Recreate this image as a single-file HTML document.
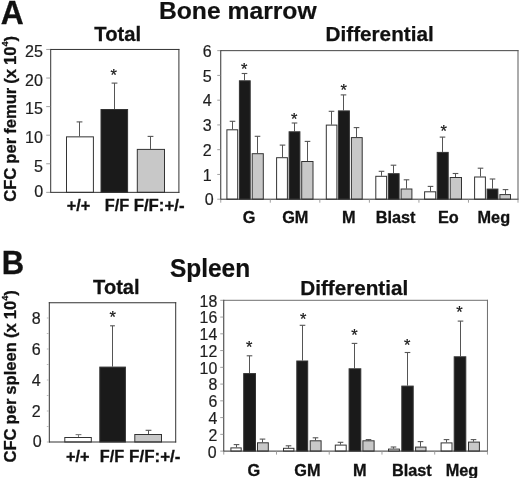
<!DOCTYPE html>
<html><head><meta charset="utf-8"><title>CFC figure</title>
<style>
html,body{margin:0;padding:0;background:#fff;}
body{width:520px;height:478px;overflow:hidden;}
svg{display:block;font-family:'Liberation Sans', sans-serif;filter:grayscale(1);}
</style></head><body>
<svg width="520" height="478" viewBox="0 0 520 478">
<rect x="0" y="0" width="520" height="478" fill="#ffffff"/>
<text transform="translate(0.80,23.80) scale(1.0,1.03)" font-size="31.8" font-weight="bold" text-anchor="start" fill="#111" stroke="#111" stroke-width="0.3">A</text>
<text transform="translate(1.70,274.20) scale(1.0,1.1)" font-size="31.0" font-weight="bold" text-anchor="start" fill="#111" stroke="#111" stroke-width="0.3">B</text>
<text transform="translate(158.90,19.30) scale(1.0,0.98)" font-size="24.7" font-weight="bold" text-anchor="start" fill="#111" stroke="#111" stroke-width="0.2">Bone marrow</text>
<text transform="translate(169.90,277.10) scale(1.0,1.03)" font-size="24.5" font-weight="bold" text-anchor="start" fill="#111" stroke="#111" stroke-width="0.2">Spleen</text>
<text transform="translate(94.30,41.00) scale(1.0,1.02)" font-size="20.2" font-weight="bold" text-anchor="start" fill="#111" stroke="#111" stroke-width="0.25">Total</text>
<text transform="translate(93.10,293.50) scale(1.0,1.02)" font-size="20.1" font-weight="bold" text-anchor="start" fill="#111" stroke="#111" stroke-width="0.25">Total</text>
<text transform="translate(325.60,41.30) scale(1.0,1.0)" font-size="20.7" font-weight="bold" text-anchor="start" fill="#111" stroke="#111" stroke-width="0.25">Differential</text>
<text transform="translate(300.20,295.30) scale(1.0,1.0)" font-size="20.7" font-weight="bold" text-anchor="start" fill="#111" stroke="#111" stroke-width="0.25">Differential</text>
<text transform="translate(15.90,201.80) rotate(-90) scale(1,1.03)" font-size="16.6" word-spacing="-0.6" font-weight="bold" fill="#111" stroke="#111" stroke-width="0.3">CFC per femur (x 10<tspan font-size="9" dy="-7.6">4</tspan><tspan dy="7.6">)</tspan></text>
<text transform="translate(15.90,462.60) rotate(-90) scale(1,1.03)" font-size="16.6" word-spacing="-0.6" font-weight="bold" fill="#111" stroke="#111" stroke-width="0.3">CFC per spleen (x 10<tspan font-size="9" dy="-7.6">4</tspan><tspan dy="7.6">)</tspan></text>
<rect x="79.00" y="121.90" width="1.00" height="14.45" fill="#555555"/>
<rect x="76.60" y="121.35" width="5.80" height="1.10" fill="#555555"/>
<rect x="66.50" y="136.85" width="26.90" height="55.50" fill="#ffffff" stroke="#333333" stroke-width="1"/>
<rect x="114.00" y="83.10" width="1.00" height="25.90" fill="#555555"/>
<rect x="111.60" y="82.55" width="5.80" height="1.10" fill="#555555"/>
<rect x="101.00" y="109.50" width="26.60" height="82.85" fill="#1a1a1a" stroke="#333333" stroke-width="1"/>
<rect x="150.00" y="136.40" width="1.00" height="12.50" fill="#555555"/>
<rect x="147.60" y="135.85" width="5.80" height="1.10" fill="#555555"/>
<rect x="137.30" y="149.40" width="27.20" height="42.95" fill="#c8c8c8" stroke="#333333" stroke-width="1"/>
<text x="113.80" y="80.90" font-size="16.5" text-anchor="middle" fill="#1a1a1a" stroke="#1a1a1a" stroke-width="0.25">*</text>
<rect x="50.20" y="48.95" width="129.20" height="1.00" fill="#333333"/>
<rect x="50.20" y="191.85" width="129.20" height="1.00" fill="#333333"/>
<rect x="50.20" y="48.95" width="1.00" height="143.90" fill="#333333"/>
<rect x="178.40" y="48.95" width="1.00" height="143.90" fill="#333333"/>
<rect x="46.20" y="191.85" width="4.00" height="1.00" fill="#a0a0a0"/>
<text transform="translate(43.10,196.95) scale(1.0,0.98)" font-size="16.1" text-anchor="end" fill="#1e1e1e" stroke="#1e1e1e" stroke-width="0.2">0</text>
<rect x="46.20" y="163.27" width="4.00" height="1.00" fill="#a0a0a0"/>
<text transform="translate(42.90,171.57) scale(1.0,0.98)" font-size="16.1" text-anchor="end" fill="#1e1e1e" stroke="#1e1e1e" stroke-width="0.2">5</text>
<rect x="46.20" y="134.69" width="4.00" height="1.00" fill="#a0a0a0"/>
<text transform="translate(42.90,142.99) scale(1.0,0.98)" font-size="16.1" text-anchor="end" fill="#1e1e1e" stroke="#1e1e1e" stroke-width="0.2">10</text>
<rect x="46.20" y="106.11" width="4.00" height="1.00" fill="#a0a0a0"/>
<text transform="translate(42.90,114.41) scale(1.0,0.98)" font-size="16.1" text-anchor="end" fill="#1e1e1e" stroke="#1e1e1e" stroke-width="0.2">15</text>
<rect x="46.20" y="77.53" width="4.00" height="1.00" fill="#a0a0a0"/>
<text transform="translate(42.90,85.83) scale(1.0,0.98)" font-size="16.1" text-anchor="end" fill="#1e1e1e" stroke="#1e1e1e" stroke-width="0.2">20</text>
<rect x="46.20" y="48.95" width="4.00" height="1.00" fill="#a0a0a0"/>
<text transform="translate(42.90,57.25) scale(1.0,0.98)" font-size="16.1" text-anchor="end" fill="#1e1e1e" stroke="#1e1e1e" stroke-width="0.2">25</text>
<text transform="translate(78.50,211.30) scale(1.0,0.98)" font-size="16.3" font-weight="bold" text-anchor="middle" fill="#111" stroke="#111" stroke-width="0.3">+/+</text>
<text transform="translate(116.90,211.30) scale(1.0,0.98)" font-size="16.3" font-weight="bold" text-anchor="middle" fill="#111" stroke="#111" stroke-width="0.3">F/F</text>
<text transform="translate(159.10,211.30) scale(1.03,0.98)" font-size="16.3" font-weight="bold" text-anchor="middle" fill="#111" stroke="#111" stroke-width="0.3">F/F:+/-</text>
<rect x="232.00" y="121.30" width="1.00" height="8.00" fill="#555555"/>
<rect x="229.70" y="120.75" width="5.60" height="1.10" fill="#555555"/>
<rect x="226.90" y="129.80" width="10.80" height="69.40" fill="#ffffff" stroke="#333333" stroke-width="1"/>
<rect x="244.00" y="73.50" width="1.00" height="6.80" fill="#555555"/>
<rect x="241.70" y="72.95" width="5.60" height="1.10" fill="#555555"/>
<rect x="239.40" y="80.80" width="10.80" height="118.40" fill="#1a1a1a" stroke="#333333" stroke-width="1"/>
<rect x="257.00" y="136.30" width="1.00" height="16.90" fill="#555555"/>
<rect x="254.70" y="135.75" width="5.60" height="1.10" fill="#555555"/>
<rect x="252.20" y="153.70" width="11.10" height="45.50" fill="#c8c8c8" stroke="#333333" stroke-width="1"/>
<rect x="282.00" y="145.10" width="1.00" height="12.10" fill="#555555"/>
<rect x="279.70" y="144.55" width="5.60" height="1.10" fill="#555555"/>
<rect x="276.60" y="157.70" width="10.80" height="41.50" fill="#ffffff" stroke="#333333" stroke-width="1"/>
<rect x="294.00" y="123.00" width="1.00" height="8.30" fill="#555555"/>
<rect x="291.70" y="122.45" width="5.60" height="1.10" fill="#555555"/>
<rect x="289.10" y="131.80" width="10.80" height="67.40" fill="#1a1a1a" stroke="#333333" stroke-width="1"/>
<rect x="307.00" y="141.40" width="1.00" height="19.60" fill="#555555"/>
<rect x="304.70" y="140.85" width="5.60" height="1.10" fill="#555555"/>
<rect x="301.70" y="161.50" width="11.30" height="37.70" fill="#c8c8c8" stroke="#333333" stroke-width="1"/>
<rect x="331.00" y="111.30" width="1.00" height="13.30" fill="#555555"/>
<rect x="328.70" y="110.75" width="5.60" height="1.10" fill="#555555"/>
<rect x="326.30" y="125.10" width="10.60" height="74.10" fill="#ffffff" stroke="#333333" stroke-width="1"/>
<rect x="343.00" y="94.90" width="1.00" height="15.50" fill="#555555"/>
<rect x="340.70" y="94.35" width="5.60" height="1.10" fill="#555555"/>
<rect x="338.40" y="110.90" width="11.00" height="88.30" fill="#1a1a1a" stroke="#333333" stroke-width="1"/>
<rect x="356.00" y="127.60" width="1.00" height="9.50" fill="#555555"/>
<rect x="353.70" y="127.05" width="5.60" height="1.10" fill="#555555"/>
<rect x="351.40" y="137.60" width="10.80" height="61.60" fill="#c8c8c8" stroke="#333333" stroke-width="1"/>
<rect x="381.00" y="171.30" width="1.00" height="4.50" fill="#555555"/>
<rect x="378.70" y="170.75" width="5.60" height="1.10" fill="#555555"/>
<rect x="375.80" y="176.30" width="10.80" height="22.90" fill="#ffffff" stroke="#333333" stroke-width="1"/>
<rect x="393.00" y="165.20" width="1.00" height="8.00" fill="#555555"/>
<rect x="390.70" y="164.65" width="5.60" height="1.10" fill="#555555"/>
<rect x="388.30" y="173.70" width="10.80" height="25.50" fill="#1a1a1a" stroke="#333333" stroke-width="1"/>
<rect x="406.00" y="179.80" width="1.00" height="8.70" fill="#555555"/>
<rect x="403.70" y="179.25" width="5.60" height="1.10" fill="#555555"/>
<rect x="401.10" y="189.00" width="10.80" height="10.20" fill="#c8c8c8" stroke="#333333" stroke-width="1"/>
<rect x="430.00" y="186.40" width="1.00" height="4.90" fill="#555555"/>
<rect x="427.70" y="185.85" width="5.60" height="1.10" fill="#555555"/>
<rect x="424.60" y="191.80" width="11.10" height="7.40" fill="#ffffff" stroke="#333333" stroke-width="1"/>
<rect x="442.00" y="137.10" width="1.00" height="14.80" fill="#555555"/>
<rect x="439.70" y="136.55" width="5.60" height="1.10" fill="#555555"/>
<rect x="437.20" y="152.40" width="11.00" height="46.80" fill="#1a1a1a" stroke="#333333" stroke-width="1"/>
<rect x="455.00" y="173.50" width="1.00" height="3.50" fill="#555555"/>
<rect x="452.70" y="172.95" width="5.60" height="1.10" fill="#555555"/>
<rect x="450.20" y="177.50" width="11.30" height="21.70" fill="#c8c8c8" stroke="#333333" stroke-width="1"/>
<rect x="480.00" y="168.20" width="1.00" height="8.30" fill="#555555"/>
<rect x="477.70" y="167.65" width="5.60" height="1.10" fill="#555555"/>
<rect x="474.60" y="177.00" width="10.80" height="22.20" fill="#ffffff" stroke="#333333" stroke-width="1"/>
<rect x="492.00" y="179.00" width="1.00" height="9.60" fill="#555555"/>
<rect x="489.70" y="178.45" width="5.60" height="1.10" fill="#555555"/>
<rect x="487.10" y="189.10" width="10.80" height="10.10" fill="#1a1a1a" stroke="#333333" stroke-width="1"/>
<rect x="505.00" y="189.60" width="1.00" height="4.50" fill="#555555"/>
<rect x="502.70" y="189.05" width="5.60" height="1.10" fill="#555555"/>
<rect x="499.90" y="194.60" width="10.60" height="4.60" fill="#c8c8c8" stroke="#333333" stroke-width="1"/>
<text x="244.20" y="74.90" font-size="16.5" text-anchor="middle" fill="#1a1a1a" stroke="#1a1a1a" stroke-width="0.25">*</text>
<text x="294.20" y="124.70" font-size="16.5" text-anchor="middle" fill="#1a1a1a" stroke="#1a1a1a" stroke-width="0.25">*</text>
<text x="343.60" y="95.70" font-size="16.5" text-anchor="middle" fill="#1a1a1a" stroke="#1a1a1a" stroke-width="0.25">*</text>
<text x="443.60" y="137.20" font-size="16.5" text-anchor="middle" fill="#1a1a1a" stroke="#1a1a1a" stroke-width="0.25">*</text>
<rect x="220.25" y="50.15" width="298.25" height="1.00" fill="#444444"/>
<rect x="220.25" y="198.70" width="298.25" height="1.00" fill="#333333"/>
<rect x="220.25" y="50.15" width="1.00" height="149.55" fill="#333333"/>
<rect x="517.50" y="50.15" width="1.00" height="149.55" fill="#5a5a5a"/>
<rect x="217.25" y="198.70" width="3.00" height="1.00" fill="#a0a0a0"/>
<text transform="translate(213.60,204.60) scale(1.0,0.98)" font-size="16.1" text-anchor="end" fill="#1e1e1e" stroke="#1e1e1e" stroke-width="0.2">0</text>
<rect x="217.25" y="173.94" width="3.00" height="1.00" fill="#a0a0a0"/>
<text transform="translate(211.80,180.54) scale(1.0,0.98)" font-size="16.1" text-anchor="end" fill="#1e1e1e" stroke="#1e1e1e" stroke-width="0.2">1</text>
<rect x="217.25" y="149.18" width="3.00" height="1.00" fill="#a0a0a0"/>
<text transform="translate(211.80,155.78) scale(1.0,0.98)" font-size="16.1" text-anchor="end" fill="#1e1e1e" stroke="#1e1e1e" stroke-width="0.2">2</text>
<rect x="217.25" y="124.42" width="3.00" height="1.00" fill="#a0a0a0"/>
<text transform="translate(211.80,131.02) scale(1.0,0.98)" font-size="16.1" text-anchor="end" fill="#1e1e1e" stroke="#1e1e1e" stroke-width="0.2">3</text>
<rect x="217.25" y="99.67" width="3.00" height="1.00" fill="#a0a0a0"/>
<text transform="translate(211.80,106.27) scale(1.0,0.98)" font-size="16.1" text-anchor="end" fill="#1e1e1e" stroke="#1e1e1e" stroke-width="0.2">4</text>
<rect x="217.25" y="74.91" width="3.00" height="1.00" fill="#a0a0a0"/>
<text transform="translate(211.80,81.51) scale(1.0,0.98)" font-size="16.1" text-anchor="end" fill="#1e1e1e" stroke="#1e1e1e" stroke-width="0.2">5</text>
<rect x="217.25" y="50.15" width="3.00" height="1.00" fill="#a0a0a0"/>
<text transform="translate(211.80,56.75) scale(1.0,0.98)" font-size="16.1" text-anchor="end" fill="#1e1e1e" stroke="#1e1e1e" stroke-width="0.2">6</text>
<rect x="220.25" y="199.70" width="1.00" height="3.00" fill="#a0a0a0"/>
<rect x="269.79" y="199.70" width="1.00" height="3.00" fill="#a0a0a0"/>
<rect x="319.33" y="199.70" width="1.00" height="3.00" fill="#a0a0a0"/>
<rect x="368.88" y="199.70" width="1.00" height="3.00" fill="#a0a0a0"/>
<rect x="418.42" y="199.70" width="1.00" height="3.00" fill="#a0a0a0"/>
<rect x="467.96" y="199.70" width="1.00" height="3.00" fill="#a0a0a0"/>
<rect x="517.50" y="199.70" width="1.00" height="3.00" fill="#a0a0a0"/>
<text transform="translate(249.00,223.40) scale(1.0,0.98)" font-size="16.3" font-weight="bold" text-anchor="middle" fill="#111" stroke="#111" stroke-width="0.3">G</text>
<text transform="translate(295.30,223.40) scale(1.0,0.98)" font-size="16.3" font-weight="bold" text-anchor="middle" fill="#111" stroke="#111" stroke-width="0.3">GM</text>
<text transform="translate(348.70,223.40) scale(1.0,0.98)" font-size="16.3" font-weight="bold" text-anchor="middle" fill="#111" stroke="#111" stroke-width="0.3">M</text>
<text transform="translate(395.60,223.40) scale(1.0,0.98)" font-size="16.3" font-weight="bold" text-anchor="middle" fill="#111" stroke="#111" stroke-width="0.3">Blast</text>
<text transform="translate(448.40,223.40) scale(1.0,0.98)" font-size="16.3" font-weight="bold" text-anchor="middle" fill="#111" stroke="#111" stroke-width="0.3">Eo</text>
<text transform="translate(493.80,223.40) scale(1.0,0.98)" font-size="16.3" font-weight="bold" text-anchor="middle" fill="#111" stroke="#111" stroke-width="0.3">Meg</text>
<rect x="78.00" y="434.60" width="1.00" height="2.40" fill="#7a7a7a"/>
<rect x="75.60" y="434.05" width="5.80" height="1.10" fill="#7a7a7a"/>
<rect x="64.80" y="437.50" width="26.50" height="4.50" fill="#ffffff" stroke="#333333" stroke-width="1"/>
<rect x="112.00" y="325.80" width="1.00" height="40.80" fill="#555555"/>
<rect x="110.10" y="325.25" width="4.80" height="1.10" fill="#555555"/>
<rect x="99.80" y="367.10" width="25.60" height="74.90" fill="#1a1a1a" stroke="#333333" stroke-width="1"/>
<rect x="148.00" y="430.30" width="1.00" height="3.70" fill="#555555"/>
<rect x="145.60" y="429.75" width="5.80" height="1.10" fill="#555555"/>
<rect x="134.80" y="434.50" width="26.70" height="7.50" fill="#c8c8c8" stroke="#333333" stroke-width="1"/>
<text x="112.70" y="323.20" font-size="16.5" text-anchor="middle" fill="#1a1a1a" stroke="#1a1a1a" stroke-width="0.25">*</text>
<rect x="48.80" y="302.25" width="127.40" height="1.00" fill="#333333"/>
<rect x="48.80" y="441.50" width="127.40" height="1.00" fill="#333333"/>
<rect x="48.80" y="302.25" width="1.00" height="140.25" fill="#333333"/>
<rect x="175.20" y="302.25" width="1.00" height="140.25" fill="#333333"/>
<rect x="46.80" y="441.50" width="2.00" height="1.00" fill="#bcbcbc"/>
<text transform="translate(41.80,447.00) scale(1.0,0.98)" font-size="16.1" text-anchor="end" fill="#1e1e1e" stroke="#1e1e1e" stroke-width="0.2">0</text>
<rect x="46.80" y="426.00" width="2.00" height="1.00" fill="#bcbcbc"/>
<rect x="46.80" y="410.50" width="2.00" height="1.00" fill="#bcbcbc"/>
<text transform="translate(40.60,416.80) scale(1.0,0.98)" font-size="16.1" text-anchor="end" fill="#1e1e1e" stroke="#1e1e1e" stroke-width="0.2">2</text>
<rect x="46.80" y="395.00" width="2.00" height="1.00" fill="#bcbcbc"/>
<rect x="46.80" y="379.50" width="2.00" height="1.00" fill="#bcbcbc"/>
<text transform="translate(40.60,385.80) scale(1.0,0.98)" font-size="16.1" text-anchor="end" fill="#1e1e1e" stroke="#1e1e1e" stroke-width="0.2">4</text>
<rect x="46.80" y="364.00" width="2.00" height="1.00" fill="#bcbcbc"/>
<rect x="46.80" y="348.50" width="2.00" height="1.00" fill="#bcbcbc"/>
<text transform="translate(40.60,354.80) scale(1.0,0.98)" font-size="16.1" text-anchor="end" fill="#1e1e1e" stroke="#1e1e1e" stroke-width="0.2">6</text>
<rect x="46.80" y="333.00" width="2.00" height="1.00" fill="#bcbcbc"/>
<rect x="46.80" y="317.50" width="2.00" height="1.00" fill="#bcbcbc"/>
<text transform="translate(40.60,323.80) scale(1.0,0.98)" font-size="16.1" text-anchor="end" fill="#1e1e1e" stroke="#1e1e1e" stroke-width="0.2">8</text>
<text transform="translate(77.75,462.20) scale(1.0,0.98)" font-size="16.3" font-weight="bold" text-anchor="middle" fill="#111" stroke="#111" stroke-width="0.3">+/+</text>
<text transform="translate(112.00,462.20) scale(1.0,0.98)" font-size="16.3" font-weight="bold" text-anchor="middle" fill="#111" stroke="#111" stroke-width="0.3">F/F</text>
<text transform="translate(154.75,462.20) scale(1.04,0.98)" font-size="16.3" font-weight="bold" text-anchor="middle" fill="#111" stroke="#111" stroke-width="0.3">F/F:+/-</text>
<rect x="236.00" y="444.60" width="1.00" height="2.80" fill="#555555"/>
<rect x="233.70" y="444.05" width="5.60" height="1.10" fill="#555555"/>
<rect x="230.90" y="447.90" width="10.30" height="3.20" fill="#ffffff" stroke="#333333" stroke-width="1"/>
<rect x="249.00" y="355.80" width="1.00" height="17.30" fill="#555555"/>
<rect x="246.70" y="355.25" width="5.60" height="1.10" fill="#555555"/>
<rect x="243.70" y="373.60" width="11.80" height="77.50" fill="#1a1a1a" stroke="#333333" stroke-width="1"/>
<rect x="262.00" y="439.10" width="1.00" height="3.20" fill="#555555"/>
<rect x="259.70" y="438.55" width="5.60" height="1.10" fill="#555555"/>
<rect x="257.50" y="442.80" width="10.80" height="8.30" fill="#c8c8c8" stroke="#333333" stroke-width="1"/>
<rect x="288.00" y="445.80" width="1.00" height="2.00" fill="#555555"/>
<rect x="285.70" y="445.25" width="5.60" height="1.10" fill="#555555"/>
<rect x="283.50" y="448.30" width="10.40" height="2.80" fill="#ffffff" stroke="#333333" stroke-width="1"/>
<rect x="302.00" y="325.30" width="1.00" height="35.20" fill="#555555"/>
<rect x="299.70" y="324.75" width="5.60" height="1.10" fill="#555555"/>
<rect x="296.80" y="361.00" width="10.90" height="90.10" fill="#1a1a1a" stroke="#333333" stroke-width="1"/>
<rect x="315.00" y="437.80" width="1.00" height="2.50" fill="#555555"/>
<rect x="312.70" y="437.25" width="5.60" height="1.10" fill="#555555"/>
<rect x="310.20" y="440.80" width="10.90" height="10.30" fill="#c8c8c8" stroke="#333333" stroke-width="1"/>
<rect x="340.00" y="442.30" width="1.00" height="2.30" fill="#555555"/>
<rect x="337.70" y="441.75" width="5.60" height="1.10" fill="#555555"/>
<rect x="335.30" y="445.10" width="10.90" height="6.00" fill="#ffffff" stroke="#333333" stroke-width="1"/>
<rect x="354.00" y="343.40" width="1.00" height="24.90" fill="#555555"/>
<rect x="351.70" y="342.85" width="5.60" height="1.10" fill="#555555"/>
<rect x="349.10" y="368.80" width="11.70" height="82.30" fill="#1a1a1a" stroke="#333333" stroke-width="1"/>
<rect x="368.00" y="439.60" width="1.00" height="0.70" fill="#555555"/>
<rect x="365.70" y="439.05" width="5.60" height="1.10" fill="#555555"/>
<rect x="362.90" y="440.80" width="11.20" height="10.30" fill="#c8c8c8" stroke="#333333" stroke-width="1"/>
<rect x="393.00" y="447.00" width="1.00" height="1.60" fill="#555555"/>
<rect x="390.70" y="446.45" width="5.60" height="1.10" fill="#555555"/>
<rect x="388.50" y="449.10" width="10.90" height="2.00" fill="#ffffff" stroke="#333333" stroke-width="1"/>
<rect x="407.00" y="352.50" width="1.00" height="33.10" fill="#555555"/>
<rect x="404.70" y="351.95" width="5.60" height="1.10" fill="#555555"/>
<rect x="401.80" y="386.10" width="11.40" height="65.00" fill="#1a1a1a" stroke="#333333" stroke-width="1"/>
<rect x="420.00" y="441.60" width="1.00" height="5.00" fill="#555555"/>
<rect x="417.70" y="441.05" width="5.60" height="1.10" fill="#555555"/>
<rect x="415.60" y="447.10" width="10.40" height="4.00" fill="#c8c8c8" stroke="#333333" stroke-width="1"/>
<rect x="446.00" y="439.60" width="1.00" height="2.80" fill="#555555"/>
<rect x="443.70" y="439.05" width="5.60" height="1.10" fill="#555555"/>
<rect x="441.10" y="442.90" width="10.90" height="8.20" fill="#ffffff" stroke="#333333" stroke-width="1"/>
<rect x="460.00" y="321.10" width="1.00" height="35.20" fill="#555555"/>
<rect x="457.70" y="320.55" width="5.60" height="1.10" fill="#555555"/>
<rect x="454.20" y="356.80" width="11.60" height="94.30" fill="#1a1a1a" stroke="#333333" stroke-width="1"/>
<rect x="473.00" y="439.60" width="1.00" height="2.00" fill="#555555"/>
<rect x="470.70" y="439.05" width="5.60" height="1.10" fill="#555555"/>
<rect x="468.50" y="442.10" width="10.90" height="9.00" fill="#c8c8c8" stroke="#333333" stroke-width="1"/>
<text x="249.20" y="352.60" font-size="16.5" text-anchor="middle" fill="#1a1a1a" stroke="#1a1a1a" stroke-width="0.25">*</text>
<text x="303.10" y="325.00" font-size="16.5" text-anchor="middle" fill="#1a1a1a" stroke="#1a1a1a" stroke-width="0.25">*</text>
<text x="354.40" y="341.30" font-size="16.5" text-anchor="middle" fill="#1a1a1a" stroke="#1a1a1a" stroke-width="0.25">*</text>
<text x="407.10" y="350.80" font-size="16.5" text-anchor="middle" fill="#1a1a1a" stroke="#1a1a1a" stroke-width="0.25">*</text>
<text x="459.50" y="318.00" font-size="16.5" text-anchor="middle" fill="#1a1a1a" stroke="#1a1a1a" stroke-width="0.25">*</text>
<rect x="223.25" y="299.80" width="264.70" height="1.00" fill="#707070"/>
<rect x="223.25" y="450.60" width="264.70" height="1.00" fill="#333333"/>
<rect x="223.25" y="299.80" width="1.00" height="151.80" fill="#333333"/>
<rect x="486.95" y="299.80" width="1.00" height="151.80" fill="#6e6e6e"/>
<rect x="220.25" y="450.60" width="3.00" height="1.00" fill="#a0a0a0"/>
<text transform="translate(216.70,457.70) scale(1.0,0.98)" font-size="15.9" text-anchor="end" fill="#1e1e1e" stroke="#1e1e1e" stroke-width="0.2">0</text>
<rect x="220.25" y="433.84" width="3.00" height="1.00" fill="#a0a0a0"/>
<text transform="translate(217.30,440.64) scale(1.0,0.98)" font-size="15.9" text-anchor="end" fill="#1e1e1e" stroke="#1e1e1e" stroke-width="0.2">2</text>
<rect x="220.25" y="417.09" width="3.00" height="1.00" fill="#a0a0a0"/>
<text transform="translate(217.30,423.89) scale(1.0,0.98)" font-size="15.9" text-anchor="end" fill="#1e1e1e" stroke="#1e1e1e" stroke-width="0.2">4</text>
<rect x="220.25" y="400.33" width="3.00" height="1.00" fill="#a0a0a0"/>
<text transform="translate(217.30,407.13) scale(1.0,0.98)" font-size="15.9" text-anchor="end" fill="#1e1e1e" stroke="#1e1e1e" stroke-width="0.2">6</text>
<rect x="220.25" y="383.58" width="3.00" height="1.00" fill="#a0a0a0"/>
<text transform="translate(217.30,390.38) scale(1.0,0.98)" font-size="15.9" text-anchor="end" fill="#1e1e1e" stroke="#1e1e1e" stroke-width="0.2">8</text>
<rect x="220.25" y="366.82" width="3.00" height="1.00" fill="#a0a0a0"/>
<text transform="translate(217.30,373.62) scale(1.0,0.98)" font-size="15.9" text-anchor="end" fill="#1e1e1e" stroke="#1e1e1e" stroke-width="0.2">10</text>
<rect x="220.25" y="350.07" width="3.00" height="1.00" fill="#a0a0a0"/>
<text transform="translate(217.30,356.87) scale(1.0,0.98)" font-size="15.9" text-anchor="end" fill="#1e1e1e" stroke="#1e1e1e" stroke-width="0.2">12</text>
<rect x="220.25" y="333.31" width="3.00" height="1.00" fill="#a0a0a0"/>
<text transform="translate(217.30,340.11) scale(1.0,0.98)" font-size="15.9" text-anchor="end" fill="#1e1e1e" stroke="#1e1e1e" stroke-width="0.2">14</text>
<rect x="220.25" y="316.56" width="3.00" height="1.00" fill="#a0a0a0"/>
<text transform="translate(217.30,323.36) scale(1.0,0.98)" font-size="15.9" text-anchor="end" fill="#1e1e1e" stroke="#1e1e1e" stroke-width="0.2">16</text>
<rect x="220.25" y="299.80" width="3.00" height="1.00" fill="#a0a0a0"/>
<text transform="translate(217.30,306.60) scale(1.0,0.98)" font-size="15.9" text-anchor="end" fill="#1e1e1e" stroke="#1e1e1e" stroke-width="0.2">18</text>
<rect x="223.25" y="451.60" width="1.00" height="3.00" fill="#a0a0a0"/>
<rect x="275.99" y="451.60" width="1.00" height="3.00" fill="#a0a0a0"/>
<rect x="328.73" y="451.60" width="1.00" height="3.00" fill="#a0a0a0"/>
<rect x="381.47" y="451.60" width="1.00" height="3.00" fill="#a0a0a0"/>
<rect x="434.21" y="451.60" width="1.00" height="3.00" fill="#a0a0a0"/>
<rect x="486.95" y="451.60" width="1.00" height="3.00" fill="#a0a0a0"/>
<text transform="translate(253.80,476.00) scale(1.0,0.98)" font-size="16.3" font-weight="bold" text-anchor="middle" fill="#111" stroke="#111" stroke-width="0.3">G</text>
<text transform="translate(307.40,476.00) scale(1.0,0.98)" font-size="16.3" font-weight="bold" text-anchor="middle" fill="#111" stroke="#111" stroke-width="0.3">GM</text>
<text transform="translate(359.90,476.00) scale(1.0,0.98)" font-size="16.3" font-weight="bold" text-anchor="middle" fill="#111" stroke="#111" stroke-width="0.3">M</text>
<text transform="translate(411.80,476.00) scale(1.0,0.98)" font-size="16.3" font-weight="bold" text-anchor="middle" fill="#111" stroke="#111" stroke-width="0.3">Blast</text>
<text transform="translate(462.00,476.00) scale(1.0,0.98)" font-size="16.3" font-weight="bold" text-anchor="middle" fill="#111" stroke="#111" stroke-width="0.3">Meg</text>
</svg>
</body></html>
